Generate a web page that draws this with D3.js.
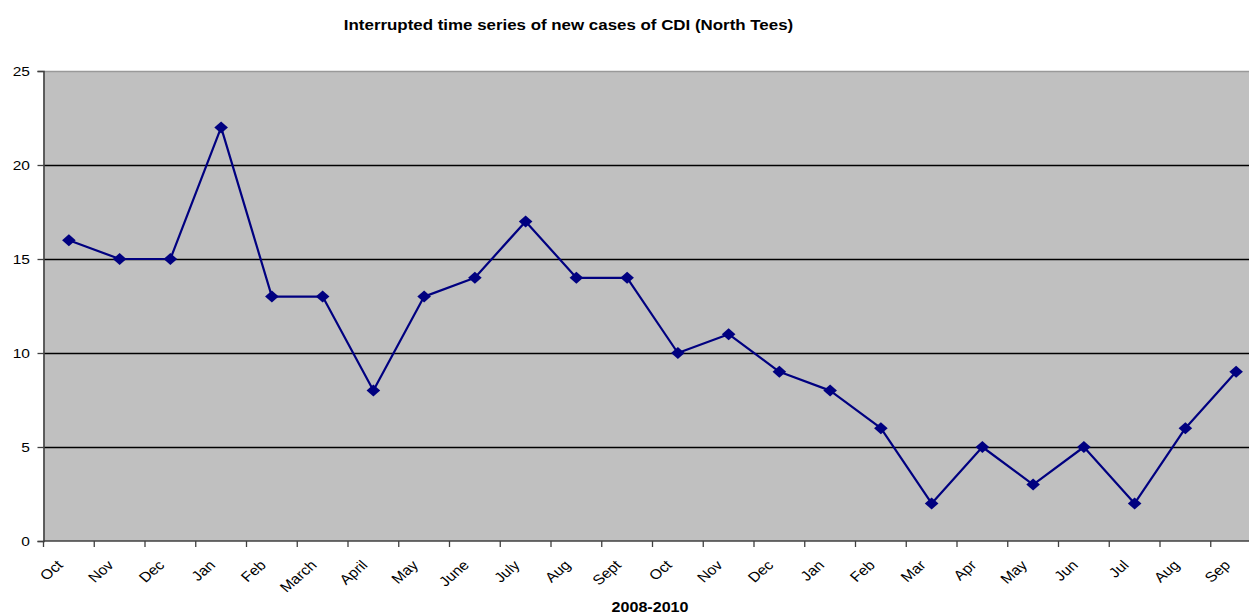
<!DOCTYPE html>
<html>
<head>
<meta charset="utf-8">
<script src="https://cdn.jsdelivr.net/npm/d3@7"></script>
<style>
  html, body { margin: 0; padding: 0; background: #fff; }
  svg { display: block; font-family: "Liberation Sans", Arial, sans-serif; }
</style>
</head>
<body>
<svg id="chart" width="1249" height="614"></svg>
<script>
// Monthly new CDI cases, North Tees, Oct 2008 – Sep 2010
const months = ["Oct","Nov","Dec","Jan","Feb","March","April","May","June","July","Aug","Sept",
                "Oct","Nov","Dec","Jan","Feb","Mar","Apr","May","Jun","Jul","Aug","Sep"];
const cases = [16,15,15,22,13,13,8,13,14,17,14,14,
               10,11,9,8,6,2,5,3,5,2,6,9];
const yTicks = [0,5,10,15,20,25];

const svg = d3.select("#chart");
const plot = { left: 43.5, right: 1261.5, top: 71, bottom: 541 };
const sx = 1.15; // horizontal stretch of the text glyphs

// index-based band scale so repeated month names stay distinct
const x = d3.scaleBand()
  .domain(d3.range(months.length))
  .range([plot.left, plot.right])
  .paddingInner(0).paddingOuter(0);
const y = d3.scaleLinear().domain([0, 25]).range([plot.bottom, plot.top]);
const cx = i => x(i) + x.bandwidth() / 2;

// plot background
svg.append("rect")
  .attr("x", plot.left).attr("y", plot.top)
  .attr("width", plot.right - plot.left).attr("height", plot.bottom - plot.top)
  .attr("fill", "#c0c0c0");

// horizontal gridlines
svg.append("g")
  .selectAll("line")
  .data(yTicks.filter(t => t > 0 && t < 25))
  .join("line")
  .attr("x1", plot.left).attr("x2", plot.right)
  .attr("y1", d => Math.round(y(d)) + 0.5).attr("y2", d => Math.round(y(d)) + 0.5)
  .attr("stroke", "#000").attr("stroke-width", 1.3);

// top border of plot area
svg.append("line")
  .attr("x1", plot.left).attr("x2", plot.right)
  .attr("y1", plot.top + 0.5).attr("y2", plot.top + 0.5)
  .attr("stroke", "#999").attr("stroke-width", 1.3);

// y axis
const yAxis = d3.axisLeft(y).tickValues(yTicks).tickSize(6).tickFormat(() => "");
const gy = svg.append("g")
  .attr("transform", `translate(${plot.left},0)`)
  .call(yAxis);
gy.select(".domain").attr("stroke", "#404040").attr("stroke-width", 1.6);
gy.selectAll(".tick line").attr("stroke", "#404040").attr("stroke-width", 1.3);

svg.append("g")
  .selectAll("text")
  .data(yTicks)
  .join("text")
  .attr("transform", d => `translate(30,${y(d)}) scale(${sx},1)`)
  .attr("text-anchor", "end")
  .attr("dy", "0.35em")
  .attr("font-size", 13.5)
  .attr("fill", "#000")
  .text(d => d);

// x axis: ticks at band boundaries
const xEdges = d3.range(months.length + 1).map(i => plot.left + i * x.bandwidth());
const gx = svg.append("g");
gx.append("line")
  .attr("x1", plot.left).attr("x2", plot.right)
  .attr("y1", plot.bottom).attr("y2", plot.bottom)
  .attr("stroke", "#404040").attr("stroke-width", 1.6);
gx.selectAll("line.tk")
  .data(xEdges)
  .join("line")
  .attr("class", "tk")
  .attr("x1", d => d).attr("x2", d => d)
  .attr("y1", plot.bottom).attr("y2", plot.bottom + 6)
  .attr("stroke", "#404040").attr("stroke-width", 1.3);

gx.selectAll("text")
  .data(months)
  .join("text")
  .attr("transform", (d, i) => `translate(${cx(i) - 5},${plot.bottom + 25}) scale(${sx},1) rotate(-45)`)
  .attr("text-anchor", "end")
  .attr("font-size", 13.8)
  .attr("fill", "#000")
  .text(d => d);

// series line
const line = d3.line()
  .x((d, i) => cx(i))
  .y(d => y(d));
svg.append("path")
  .datum(cases)
  .attr("d", line)
  .attr("fill", "none")
  .attr("stroke", "#000080")
  .attr("stroke-width", 2.2)
  .attr("stroke-linejoin", "round");

// diamond markers
svg.append("g")
  .selectAll("path")
  .data(cases)
  .join("path")
  .attr("transform", (d, i) => `translate(${cx(i)},${y(d)})`)
  .attr("d", "M0,-6L6.8,0L0,6L-6.8,0Z")
  .attr("fill", "#000080");

// title and axis caption
svg.append("text")
  .attr("transform", `translate(568.5,30) scale(${sx},1)`)
  .attr("text-anchor", "middle")
  .attr("font-size", 14.7).attr("font-weight", "bold")
  .text("Interrupted time series of new cases of CDI (North Tees)");

svg.append("text")
  .attr("transform", `translate(650,612) scale(${sx},1)`)
  .attr("text-anchor", "middle")
  .attr("font-size", 14).attr("font-weight", "bold")
  .text("2008-2010");
</script>
</body>
</html>
